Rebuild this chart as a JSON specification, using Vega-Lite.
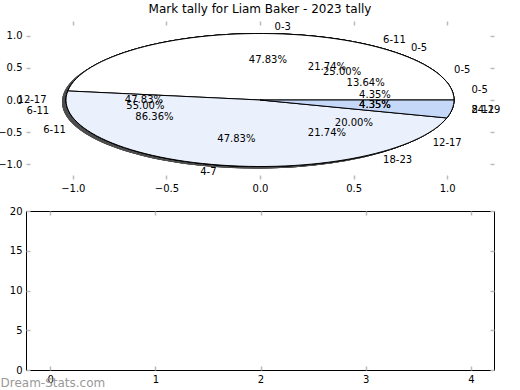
{
  "$schema": "https://vega.github.io/schema/vega-lite/v6.json",
  "padding": {"left": -3, "top": 3, "right": 0, "bottom": 0},
  "background": "white",
  "bounds": "flush",
  "spacing": 32,
  "config": {
    "font": "DejaVu Sans",
    "view": {"stroke": null},
    "axis": {"grid": false, "labelFontSize": 10, "labelColor": "#000", "labelFlush": false, "labelOverlap": false, "tickColor": "#bbbbbb", "tickWidth": 1.5, "tickSize": -4, "labelPadding": 8, "domain": false, "title": null}
  },
  "vconcat": [
    {
      "width": 468,
      "height": 158,
      "title": {"text": "Mark tally for Liam Baker - 2023 tally", "fontSize": 12, "fontWeight": "normal", "color": "#000", "offset": 4},
      "data": {
        "values": [
          {"pie": "A", "idx": 1, "label": "0-3", "count": 11},
          {"pie": "A", "idx": 2, "label": "4-7", "count": 11},
          {"pie": "A", "idx": 3, "label": "8-11", "count": 1},
          {"pie": "B", "idx": 1, "label": "0-5", "count": 1},
          {"pie": "B", "idx": 2, "label": "6-11", "count": 5},
          {"pie": "B", "idx": 3, "label": "12-17", "count": 11},
          {"pie": "B", "idx": 4, "label": "18-23", "count": 5},
          {"pie": "B", "idx": 5, "label": "24-29", "count": 1},
          {"pie": "C", "idx": 1, "label": "0-5", "count": 5},
          {"pie": "C", "idx": 2, "label": "6-11", "count": 11},
          {"pie": "C", "idx": 3, "label": "12-17", "count": 4},
          {"pie": "D", "idx": 1, "label": "0-5", "count": 3},
          {"pie": "D", "idx": 2, "label": "6-11", "count": 19}
        ]
      },
      "transform": [
        {"joinaggregate": [{"op": "sum", "field": "count", "as": "total"}], "groupby": ["pie"]},
        {"window": [{"op": "sum", "field": "count", "as": "cum"}], "groupby": ["pie"], "sort": [{"field": "idx"}], "frame": [null, 0]},
        {"calculate": "2*PI*(datum.cum-datum.count)/datum.total", "as": "a0"},
        {"calculate": "2*PI*datum.cum/datum.total", "as": "a1"},
        {"calculate": "(datum.a0+datum.a1)/2", "as": "mid"},
        {"calculate": "datum.count/datum.total", "as": "pct"},
        {"calculate": "1.14*cos(datum.mid)", "as": "lx"},
        {"calculate": "1.14*sin(datum.mid)", "as": "ly"},
        {"calculate": "0.62*cos(datum.mid)", "as": "px"},
        {"calculate": "0.62*sin(datum.mid)", "as": "py"},
        {"calculate": "'M0,0L' + round(194*cos(datum.a0)*100)/100 + ',' + round(-66.5*sin(datum.a0)*100)/100 + 'A194,66.5 0 ' + (datum.a1 - datum.a0 > PI ? 1 : 0) + ',0 ' + round(194*cos(datum.a1)*100)/100 + ',' + round(-66.5*sin(datum.a1)*100)/100 + 'Z'", "as": "path"}
      ],
      "layer": [
        {
          "mark": {"type": "point", "filled": true, "size": 4, "opacity": 1, "fill": "#4d4d4d", "xOffset": -4, "yOffset": 2},
          "encoding": {
            "x": {"datum": 0, "type": "quantitative", "scale": {"domain": [-1.25, 1.25]}, "axis": null},
            "y": {"datum": 0, "type": "quantitative", "scale": {"domain": [-1.23, 1.23]}, "axis": null},
            "shape": {"field": "path", "type": "nominal", "scale": null, "legend": null}
          }
        },
        {
          "mark": {"type": "point", "filled": true, "size": 4, "opacity": 1, "stroke": "#000000", "strokeWidth": 1},
          "encoding": {
            "x": {"datum": 0, "type": "quantitative", "scale": {"domain": [-1.25, 1.25]}, "axis": null},
            "y": {"datum": 0, "type": "quantitative", "scale": {"domain": [-1.23, 1.23]}, "axis": null},
            "shape": {"field": "path", "type": "nominal", "scale": null, "legend": null},
            "color": {"field": "idx", "type": "nominal", "scale": {"domain": [1, 2, 3, 4, 5], "range": ["#ffffff", "#ebf1fc", "#c5d8f7", "#ffffff", "#ebf1fc"]}, "legend": null},
            "order": {"field": "pie", "sort": "descending"}
          }
        },
        {
          "transform": [{"filter": "datum.lx > 0"}],
          "mark": {"type": "text", "align": "left", "baseline": "middle", "fontSize": 10, "color": "#000"},
          "encoding": {
            "x": {"field": "lx", "type": "quantitative", "scale": {"domain": [-1.25, 1.25]}, "axis": {"orient": "top", "labels": false, "values": [-1, -0.5, 0, 0.5, 1]}},
            "y": {"field": "ly", "type": "quantitative", "scale": {"domain": [-1.23, 1.23]}, "axis": {"orient": "right", "labels": false, "values": [-1, -0.5, 0, 0.5, 1]}},
            "text": {"field": "label"}
          }
        },
        {
          "transform": [{"filter": "datum.lx <= 0"}],
          "mark": {"type": "text", "align": "right", "baseline": "middle", "fontSize": 10, "color": "#000"},
          "encoding": {
            "x": {"field": "lx", "type": "quantitative", "scale": {"domain": [-1.25, 1.25]}, "axis": null},
            "y": {"field": "ly", "type": "quantitative", "scale": {"domain": [-1.23, 1.23]}, "axis": null},
            "text": {"field": "label"}
          }
        },
        {
          "mark": {"type": "text", "align": "center", "baseline": "middle", "fontSize": 10, "color": "#000"},
          "encoding": {
            "x": {"field": "px", "type": "quantitative", "scale": {"domain": [-1.25, 1.25]}, "axis": {"orient": "bottom", "values": [-1, -0.5, 0, 0.5, 1], "format": ".1f"}},
            "y": {"field": "py", "type": "quantitative", "scale": {"domain": [-1.23, 1.23]}, "axis": {"orient": "left", "values": [-1, -0.5, 0, 0.5, 1], "format": ".1f"}},
            "text": {"field": "pct", "format": ".2%"}
          }
        }
      ],
      "resolve": {"axis": {"x": "independent", "y": "independent"}}
    },
    {
      "width": 468,
      "height": 159,
      "view": {"stroke": "#000000", "strokeWidth": 1},
      "data": {"values": []},
      "layer": [
        {
          "mark": {"type": "point"},
          "encoding": {
            "x": {"field": "x", "type": "quantitative", "scale": {"domain": [-0.23, 4.22]}, "axis": {"orient": "bottom", "values": [0, 1, 2, 3, 4], "format": "d", "title": "Dream-Stats.com", "titleColor": "#999999", "titleFontSize": 12, "titleFontWeight": "normal", "titleAnchor": "start", "titleAlign": "left", "titleBaseline": "middle", "titleX": -26, "titleY": 12}},
            "y": {"field": "y", "type": "quantitative", "scale": {"domain": [0, 20]}, "axis": {"orient": "left", "values": [0, 5, 10, 15, 20], "format": "d"}}
          }
        },
        {
          "mark": {"type": "point"},
          "encoding": {
            "x": {"field": "x", "type": "quantitative", "scale": {"domain": [-0.23, 4.22]}, "axis": {"orient": "top", "labels": false, "values": [0, 1, 2, 3, 4]}},
            "y": {"field": "y", "type": "quantitative", "scale": {"domain": [0, 20]}, "axis": {"orient": "right", "labels": false, "values": [0, 5, 10, 15, 20]}}
          }
        }
      ],
      "resolve": {"axis": {"x": "independent", "y": "independent"}}
    }
  ]
}
